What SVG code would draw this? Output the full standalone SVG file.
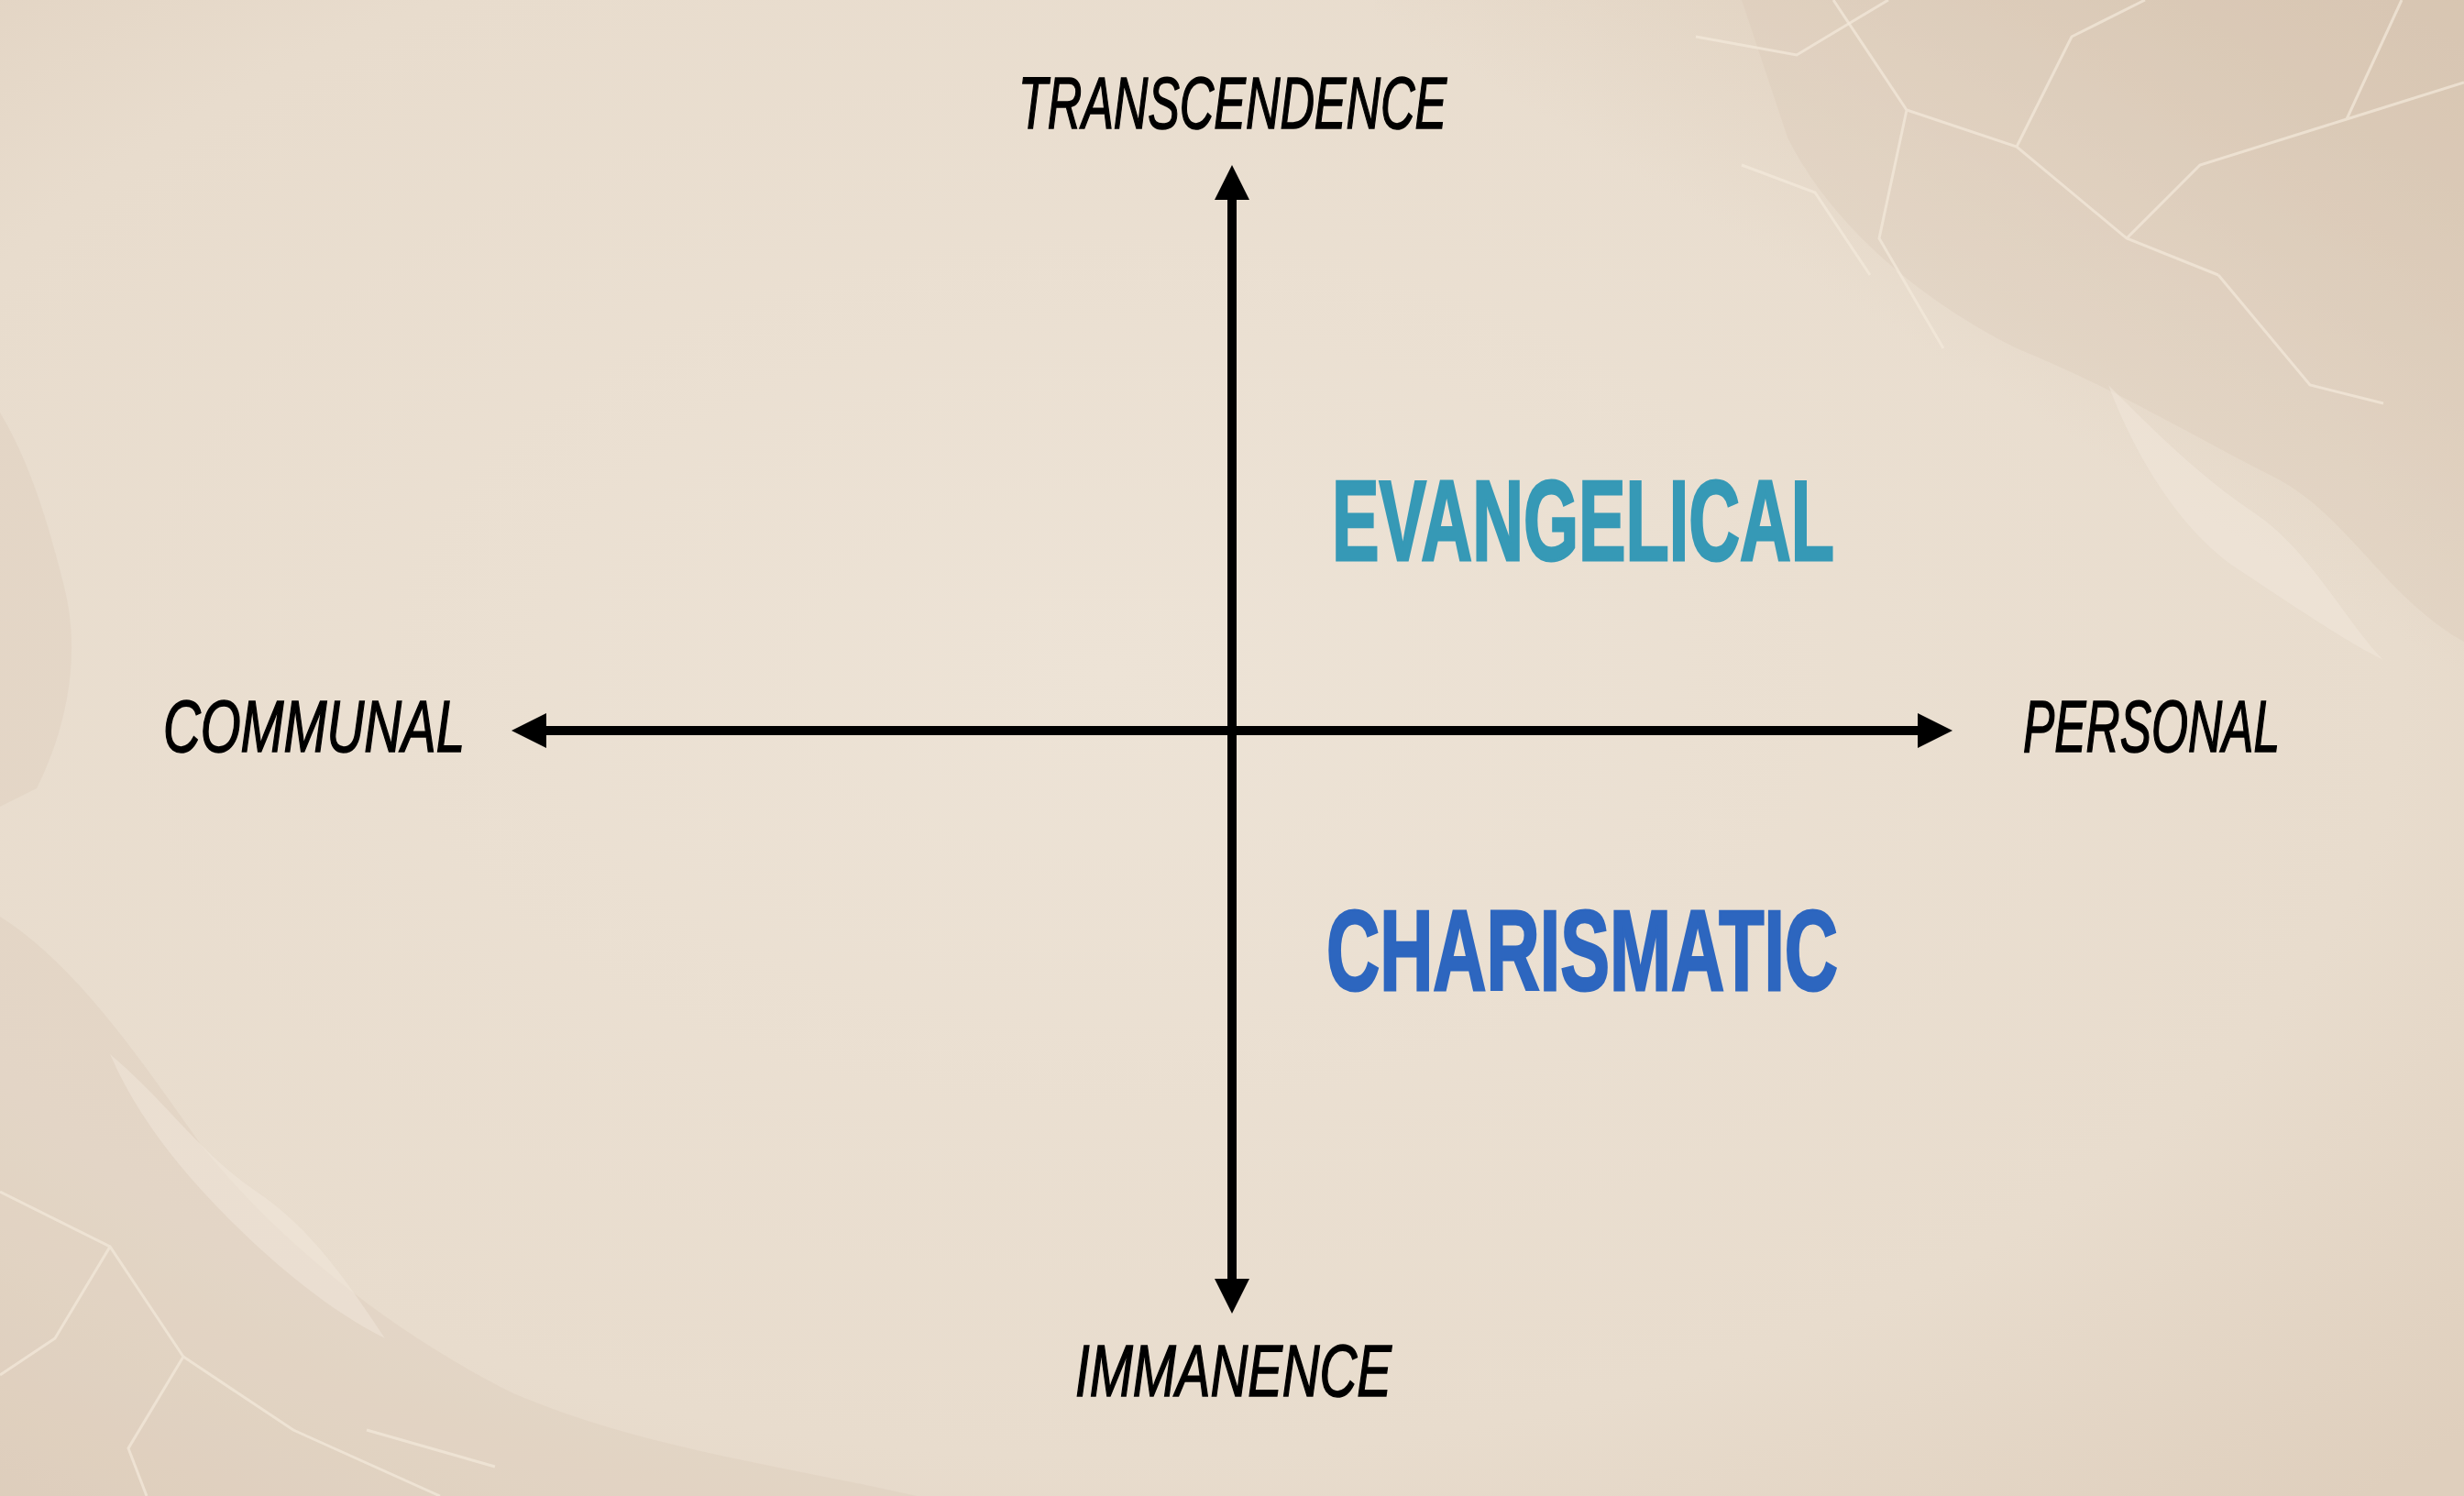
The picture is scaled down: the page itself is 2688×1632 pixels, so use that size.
<svg xmlns="http://www.w3.org/2000/svg" width="2688" height="1632" viewBox="0 0 2688 1632">
<defs>
<style>
.axis{stroke:#000;stroke-width:10;fill:none;marker-start:url(#ah);marker-end:url(#ah)}
.lbl{font-family:"Liberation Sans",Arial,sans-serif;font-style:italic;font-size:79px;fill:#000;stroke:#000;stroke-width:1.6}
.quad{font-family:"Liberation Sans",Arial,sans-serif;font-weight:bold;font-size:125px;stroke-width:3}
.crack{stroke:#f3e9dc;stroke-width:3;fill:none;opacity:0.7}
.blob{fill:#d9c6b2;opacity:0.28}
.lite{fill:#f2e8dc;opacity:0.5}
</style>
<marker id="ah" markerUnits="userSpaceOnUse" markerWidth="40" markerHeight="40" refX="8" refY="19" orient="auto-start-reverse">
<path d="M0,0 L38,19 L0,38 Z" fill="#000"/>
</marker>
<radialGradient id="bg" cx="0.45" cy="0.45" r="0.75">
<stop offset="0" stop-color="#ede3d6"/>
<stop offset="0.7" stop-color="#e8dccd"/>
<stop offset="1" stop-color="#dfcfbd"/>
</radialGradient>
<linearGradient id="tr" x1="1" y1="0" x2="0.6" y2="0.5">
<stop offset="0" stop-color="#d6c3ae" stop-opacity="0.8"/>
<stop offset="1" stop-color="#d6c3ae" stop-opacity="0"/>
</linearGradient>
</defs>
<g id="background">
<rect width="2688" height="1632" fill="url(#bg)"/>
<rect x="1500" y="0" width="1188" height="900" fill="url(#tr)"/>
<path class="blob" d="M1900,0 L2688,0 L2688,700 C2600,650 2560,560 2480,520 C2400,480 2300,420 2200,380 C2100,330 2000,250 1950,150 Z"/>
<path class="blob" d="M0,1000 C80,1050 150,1150 220,1250 C300,1350 420,1450 560,1520 C700,1580 860,1600 1000,1632 L0,1632 Z"/>
<path class="blob" d="M0,450 C30,500 50,560 70,640 C90,720 70,800 40,860 L0,880 Z"/>
<path class="lite" d="M2300,420 C2350,470 2400,520 2460,560 C2520,600 2560,680 2600,720 C2560,700 2500,660 2440,620 C2380,580 2330,500 2300,420 Z"/>
<path class="lite" d="M120,1150 C180,1200 220,1260 280,1300 C340,1340 380,1400 420,1460 C360,1430 300,1380 250,1330 C200,1280 150,1220 120,1150 Z"/>
<path class="crack" d="M2000,0 L2080,120 L2200,160 L2320,260 L2420,300 M2200,160 L2260,40 L2340,0 M2320,260 L2400,180 L2560,130 L2688,90 M2080,120 L2050,260 L2120,380 M2420,300 L2520,420 L2600,440 M2560,130 L2620,0"/>
<path class="crack" d="M1850,40 L1960,60 L2060,0 M1900,180 L1980,210 L2040,300"/>
<path class="crack" d="M0,1300 L120,1360 L200,1480 L320,1560 L480,1632 M120,1360 L60,1460 L0,1500 M200,1480 L140,1580 L160,1632 M400,1560 L540,1600"/>
</g>
<g id="connectors">
<path class="axis" d="M1344,210 L1344,1403"/>
<path class="axis" d="M588,797 L2100,797"/>
</g>
<g id="node-transcendence"><text class="lbl" x="1111" y="140" textLength="467" lengthAdjust="spacingAndGlyphs">TRANSCENDENCE</text></g>
<g id="node-immanence"><text class="lbl" x="1173" y="1523" textLength="345" lengthAdjust="spacingAndGlyphs">IMMANENCE</text></g>
<g id="node-communal"><text class="lbl" x="178" y="820" textLength="329" lengthAdjust="spacingAndGlyphs">COMMUNAL</text></g>
<g id="node-personal"><text class="lbl" x="2207" y="820" textLength="280" lengthAdjust="spacingAndGlyphs">PERSONAL</text></g>
<g id="node-evangelical"><text class="quad" x="1453" y="611" fill="#3699b6" stroke="#3699b6" textLength="548" lengthAdjust="spacingAndGlyphs">EVANGELICAL</text></g>
<g id="node-charismatic"><text class="quad" x="1447" y="1080" fill="#2d66bf" stroke="#2d66bf" textLength="558" lengthAdjust="spacingAndGlyphs">CHARISMATIC</text></g>
</svg>
